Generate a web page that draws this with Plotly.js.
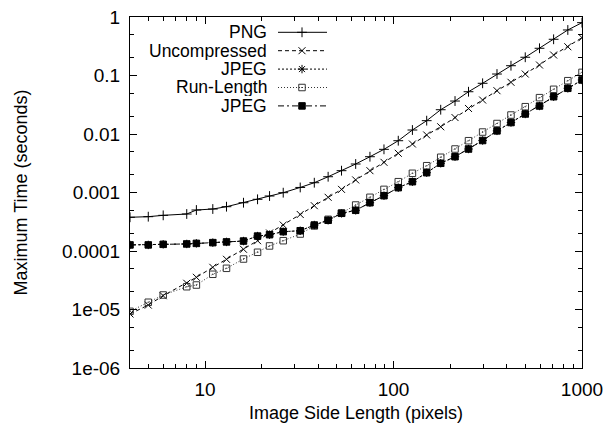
<!DOCTYPE html>
<html>
<head>
<meta charset="utf-8">
<script src="https://cdn.plot.ly/plotly-3.0.1.min.js"></script>
<style>html,body{margin:0;padding:0;background:#fff;}</style>
</head>
<body>
<div id="chart" style="width:605px;height:423px;"></div>
<script>
// Image side length (pixels)
const sideLength = [4, 5, 6, 8, 9, 11, 13, 16, 19, 22, 26, 32, 38, 45, 53, 63, 75, 89, 106, 126, 150, 178, 212, 250, 297, 354, 420, 500, 595, 707, 841, 1000];

// Maximum time (seconds) per series
const pngTime = [3.77e-4, 3.86e-4, 4.07e-4, 4.29e-4, 5.02e-4, 5.22e-4, 5.72e-4, 6.69e-4, 7.65e-4, 8.71e-4, 9.93e-4, 1.22e-3, 1.47e-3, 1.86e-3, 2.36e-3, 3.07e-3, 4.09e-3, 5.47e-3, 7.68e-3, 1.17e-2, 1.69e-2, 2.60e-2, 3.66e-2, 5.28e-2, 7.36e-2, 0.106, 0.147, 0.205, 0.292, 0.416, 0.600, 0.80];
const uncompressedTime = [8.38e-6, 1.19e-5, 1.72e-5, 2.81e-5, 3.55e-5, 5.26e-5, 7.21e-5, 1.07e-4, 1.50e-4, 2.03e-4, 2.78e-4, 4.21e-4, 5.95e-4, 8.28e-4, 1.13e-3, 1.64e-3, 2.36e-3, 3.28e-3, 4.68e-3, 6.75e-3, 9.62e-3, 1.33e-2, 1.91e-2, 2.73e-2, 3.81e-2, 5.50e-2, 7.65e-2, 0.106, 0.151, 0.224, 0.310, 0.443];
const jpegStarTime = [1.27e-4, 1.27e-4, 1.30e-4, 1.32e-4, 1.35e-4, 1.39e-4, 1.43e-4, 1.48e-4, 1.80e-4, 1.90e-4, 2.14e-4, 2.22e-4, 2.78e-4, 3.35e-4, 4.41e-4, 4.96e-4, 6.69e-4, 8.82e-4, 1.21e-3, 1.53e-3, 2.18e-3, 3.16e-3, 4.09e-3, 5.54e-3, 7.74e-3, 1.13e-2, 1.57e-2, 2.20e-2, 3.01e-2, 4.34e-2, 6.04e-2, 8.38e-2];
const runLengthTime = [9.31e-6, 1.33e-5, 1.77e-5, 2.45e-5, 2.62e-5, 4.00e-5, 5.06e-5, 7.30e-5, 9.51e-5, 1.22e-4, 1.50e-4, 1.95e-4, 2.68e-4, 3.48e-4, 4.46e-4, 6.11e-4, 8.28e-4, 1.13e-3, 1.53e-3, 2.13e-3, 2.87e-3, 4.00e-3, 5.54e-3, 7.68e-3, 1.08e-2, 1.51e-2, 2.11e-2, 2.93e-2, 4.18e-2, 5.81e-2, 8.15e-2, 0.113];
const jpegTime = [1.27e-4, 1.27e-4, 1.30e-4, 1.32e-4, 1.35e-4, 1.39e-4, 1.43e-4, 1.48e-4, 1.80e-4, 1.90e-4, 2.14e-4, 2.22e-4, 2.78e-4, 3.35e-4, 4.41e-4, 4.96e-4, 6.69e-4, 8.82e-4, 1.21e-3, 1.53e-3, 2.18e-3, 3.16e-3, 4.09e-3, 5.54e-3, 7.74e-3, 1.13e-2, 1.57e-2, 2.20e-2, 3.01e-2, 4.34e-2, 6.04e-2, 8.38e-2];

const seriesNames = ['PNG', 'Uncompressed', 'JPEG', 'Run-Length', 'JPEG'];

// Tick labels
const xTickVals = [10, 100, 1000];
const xTickText = ['10', '100', '1000'];
const yTickVals = [1e-6, 1e-5, 1e-4, 1e-3, 1e-2, 1e-1, 1];
const yTickText = ['1e-06', '1e-05', '0.0001', '0.001', '0.01', '0.1', '1'];
const xMinorVals = [5, 6, 7, 8, 9, 20, 30, 40, 50, 60, 70, 80, 90, 200, 300, 400, 500, 600, 700, 800, 900];
const yMinorVals = [2e-6, 5e-6, 2e-5, 5e-5, 2e-4, 5e-4, 2e-3, 5e-3, 2e-2, 5e-2, 0.2, 0.5];

const styles = [
  {dash: 'solid', symbol: 'cross-thin-open', size: 7, color: '#000'},
  {dash: '4px,3px', symbol: 'x-thin-open', size: 7, color: '#000'},
  {dash: '2px,2px', symbol: 'asterisk-open', size: 7, color: '#000'},
  {dash: '1px,2px', symbol: 'square-open-dot', size: 6.5, color: '#333'},
  {dash: '6px,3px,2px,3px', symbol: 'square', size: 6.5, color: '#000'}
];
const seriesY = [pngTime, uncompressedTime, jpegStarTime, runLengthTime, jpegTime];

function markerOf(i) {
  return {symbol: styles[i].symbol, size: styles[i].size, color: styles[i].color,
          line: {color: styles[i].color, width: 1}};
}

const plotL = 130, plotR = 582, plotT = 17, plotB = 368;
const pw = plotR - plotL, ph = plotB - plotT;
const rowY = [32.3, 50.7, 69.1, 87.5, 105.9];
const keyX0 = 278, keyX1 = 327;
const px2x = p => (p - plotL) / pw;
const px2y = p => 1 - (p - plotT) / ph;
const legendIds = ['legend', 'legend2', 'legend3', 'legend4', 'legend5'];

// Data traces
const traces = seriesY.map((ys, i) => ({
  type: 'scatter', mode: 'lines+markers',
  x: sideLength, y: ys, name: seriesNames[i],
  line: {color: styles[i].color, width: 1, dash: styles[i].dash},
  marker: markerOf(i),
  showlegend: false, hoverinfo: 'x+y+name'
}));
// Legend key markers (no data), one legend per row
seriesNames.forEach((n, i) => traces.push({
  type: 'scatter', mode: 'markers', x: [null], y: [null], name: ' ',
  marker: markerOf(i), showlegend: true, legend: legendIds[i], hoverinfo: 'skip'
}));

const annotations = seriesNames.map((n, i) => ({
  text: n, showarrow: false, xref: 'paper', yref: 'paper',
  x: px2x(268), xanchor: 'right',
  y: px2y(rowY[i]), yanchor: 'middle',
  height: 18, borderpad: 0,
  font: {size: 17.5, color: '#000'}
}));
const shapes = seriesNames.map((n, i) => ({
  type: 'line', xref: 'paper', yref: 'paper', layer: 'below',
  x0: px2x(keyX0), x1: px2x(keyX1),
  y0: px2y(rowY[i]), y1: px2y(rowY[i]),
  line: {color: styles[i].color, width: 1, dash: styles[i].dash}
}));

const layout = {
  width: 605, height: 423,
  margin: {l: plotL, r: 605 - plotR, t: plotT, b: 423 - plotB},
  paper_bgcolor: '#fff', plot_bgcolor: 'rgba(0,0,0,0)',
  font: {family: '"Liberation Sans", Arial, Helvetica, sans-serif', size: 18, color: '#000'},
  showlegend: true,
  xaxis: {
    type: 'log', range: [Math.log10(4), 3],
    tickmode: 'array', tickvals: xTickVals, ticktext: xTickText,
    tickfont: {size: 19},
    ticks: 'inside', ticklen: 7, tickwidth: 1, tickcolor: '#000', ticklabelstandoff: 4,
    minor: {tickmode: 'array', tickvals: xMinorVals, ticks: 'inside', ticklen: 4, tickcolor: '#000', showgrid: false},
    showline: true, linecolor: '#000', linewidth: 1, mirror: 'allticks',
    showgrid: false, zeroline: false,
    title: {text: 'Image Side Length (pixels)', standoff: 9, font: {size: 18}}
  },
  yaxis: {
    type: 'log', range: [-6, 0],
    tickmode: 'array', tickvals: yTickVals, ticktext: yTickText,
    tickfont: {size: 19},
    ticks: 'inside', ticklen: 7, tickwidth: 1, tickcolor: '#000', ticklabelstandoff: 5,
    minor: {tickmode: 'array', tickvals: yMinorVals, ticks: 'inside', ticklen: 4, tickcolor: '#000', showgrid: false},
    showline: true, linecolor: '#000', linewidth: 1, mirror: 'allticks',
    showgrid: false, zeroline: false,
    title: {text: 'Maximum Time (seconds)', standoff: 29, font: {size: 18}}
  },
  shapes: shapes,
  annotations: annotations
};
legendIds.forEach((id, i) => {
  layout[id] = {x: px2x(282), xanchor: 'left', y: px2y(rowY[i]), yanchor: 'middle',
                bgcolor: 'rgba(0,0,0,0)', borderwidth: 0, font: {size: 11}};
});

Plotly.newPlot('chart', traces, layout, {displayModeBar: false, staticPlot: true});
</script>
</body>
</html>
